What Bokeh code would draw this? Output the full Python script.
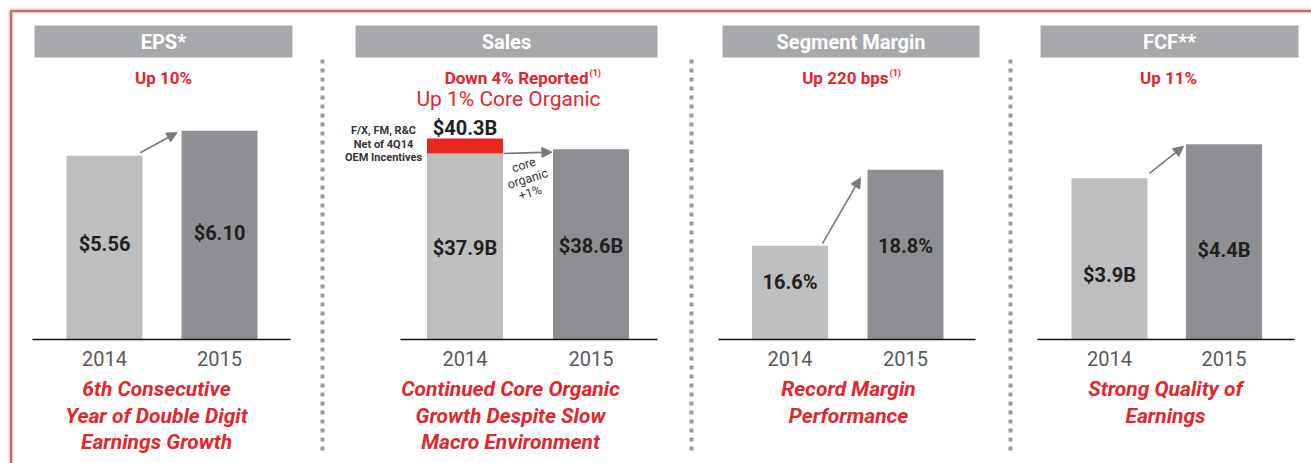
from bokeh.plotting import figure
from bokeh.models import Range1d, Arrow, NormalHead
from bokeh.core.properties import value
from bokeh.embed import file_html
from bokeh.resources import INLINE

# ---------------- data ----------------
years = ["2014", "2015"]
eps_values = [5.56, 6.10]
eps_labels = ["$5.56", "$6.10"]
sales_values = [37.9, 38.6]
sales_labels = ["$37.9B", "$38.6B"]
sales_reported_2014 = 40.3
sales_reported_label = "$40.3B"
margin_values = [16.6, 18.8]
margin_labels = ["16.6%", "18.8%"]
fcf_values = [3.9, 4.4]
fcf_labels = ["$3.9B", "$4.4B"]

titles = ["EPS*", "Sales", "Segment Margin", "FCF**"]
subtitles = ["Up 10%", "Down 4% Reported", "Up 220 bps", "Up 11%"]
subtitle_notes = ["", "(1)", "(1)", ""]
sales_core_note = "Up 1% Core Organic"
sales_bridge_note = ["F/X, FM, R&C", "Net of 4Q14", "OEM Incentives"]
sales_arrow_note = ["core", "organic", "+1%"]
captions = [
    ["6th Consecutive", "Year of Double Digit", "Earnings Growth"],
    ["Continued Core Organic", "Growth Despite Slow", "Macro Environment"],
    ["Record Margin", "Performance"],
    ["Strong Quality of", "Earnings"],
]

# ---------------- style / layout ----------------
FONT = value("Roboto")
RED = "#e2262b"
DARK = "#231f20"
HEAD_GRAY = "#a7a8ab"
BAR_COLORS = ["#bdbec0", "#8e8f92"]
RED_BAR = "#e8261e"
ARROW_GRAY = "#7a7a7a"

W, H = 1311, 463
X0, Y0 = 0, 0          # page offset (template has no body margin)
BASE_Y = 339           # page y of baseline

panels = [
    dict(key="eps", vals=eps_values, labels=eps_labels, c=(104, 219), base=1.59, k=46.3,
         line=(32, 290), head=(34, 292), sub_x=163, cap_x=156, frac=(0.52, 0.51),
         arrow=((0.31, 3), (0.63, -2))),
    dict(key="sales", vals=sales_values, labels=sales_labels, c=(464.5, 590.5), base=8.14, k=6.25,
         line=(400, 657), head=(355, 657), sub_x=588, cap_x=510, frac=(0.49, 0.49),
         arrow=((0.306, 0), (0.69, -3))),
    dict(key="margin", vals=margin_values, labels=margin_labels, c=(789.5, 905), base=13.88, k=34.5,
         line=(718, 975), head=(722, 979), sub_x=888, cap_x=848, frac=(0.61, 0.55),
         arrow=((0.281, 2), (0.61, -8))),
    dict(key="fcf", vals=fcf_values, labels=fcf_labels, c=(1109, 1223.5), base=1.53, k=68.0,
         line=(1037, 1294), head=(1040, 1298), sub_x=1168, cap_x=1165, frac=(0.40, 0.46),
         arrow=((0.349, 5), (0.646, -2))),
]
BAR_W = 76

p = figure(width=W, height=H,
           x_range=Range1d(X0, X0 + W), y_range=Range1d(Y0 + H, Y0),
           x_axis_type=None, y_axis_type=None,
           output_backend="svg", toolbar_location=None,
           min_border=0, outline_line_color=None,
           background_fill_color="white", border_fill_color="white")

# outer frame
p.line(x=[10.5, 10.5, X0 + W], y=[Y0 + H, 10.5, 10.5], line_color="#f3c6c6", line_width=5)
p.line(x=[10.5, 10.5, X0 + W], y=[Y0 + H, 10.5, 10.5], line_color="#a05a5a", line_width=1.6)

# dotted separators
p.segment(x0=[322, 691, 1010], y0=[59] * 3, x1=[322, 691, 1010], y1=[455] * 3,
          line_color="#9c9c9c", line_width=4, line_dash="4 5")

for i, pn in enumerate(panels):
    key = pn["key"]
    c0, c1 = pn["c"]
    d = c1 - c0
    k, base = pn["k"], pn["base"]
    p.extra_x_ranges[key] = Range1d((X0 - c0) / d, (X0 + W - c0) / d)
    p.extra_y_ranges[key] = Range1d(base - (Y0 + H - BASE_Y) / k, base + (BASE_Y - Y0) / k)

    # header
    hl, hr = pn["head"]
    p.quad(left=[hl], right=[hr], top=[25], bottom=[57], fill_color=HEAD_GRAY, line_color=None)
    p.text(x=[(hl + hr) / 2], y=[41.5], text=[titles[i]], text_font=FONT, text_font_style="bold",
           text_font_size="20px", text_color="white", text_align="center", text_baseline="middle")

    # subtitle
    if subtitle_notes[i]:
        p.text(x=[pn["sub_x"]], y=[77], text=[subtitles[i]], text_font=FONT, text_font_style="bold",
               text_font_size="17px", text_color=RED, text_align="right", text_baseline="middle")
        p.text(x=[pn["sub_x"] + 1], y=[72], text=[subtitle_notes[i]], text_font=FONT,
               text_font_style="bold", text_font_size="9px", text_color=RED,
               text_align="left", text_baseline="middle")
    else:
        p.text(x=[pn["sub_x"]], y=[77], text=[subtitles[i]], text_font=FONT, text_font_style="bold",
               text_font_size="17px", text_color=RED, text_align="center", text_baseline="middle")

    # bars
    vals = pn["vals"]
    p.vbar(x=[0, 1], top=vals, bottom=base, width=BAR_W / d, fill_color=BAR_COLORS,
           line_color=None, x_range_name=key, y_range_name=key)

    # value labels
    ly = [base + f * (v - base) for f, v in zip(pn["frac"], vals)]
    p.text(x=[0, 1], y=ly, text=pn["labels"], text_font=FONT, text_font_style="bold",
           text_font_size="20px", text_color=DARK, text_align="center", text_baseline="middle",
           x_range_name=key, y_range_name=key)

    # baseline
    ll, lr = pn["line"]
    p.segment(x0=[ll], y0=[BASE_Y], x1=[lr], y1=[BASE_Y], line_color="#111111", line_width=1.6)

    # year labels
    p.text(x=[0, 1], y=[358, 358], text=years, text_font=FONT, text_font_size="20px",
           text_color="#58595b", text_align="center", text_baseline="middle", x_range_name=key)

    # captions
    cap = captions[i]
    p.text(x=[pn["cap_x"]] * len(cap), y=[388.5 + 26.5 * j for j in range(len(cap))], text=cap,
           text_font=FONT, text_font_style="bold italic", text_font_size="21px", text_color=RED,
           text_align="center", text_baseline="middle")

    # growth arrow
    (sx, soff), (ex, eoff) = pn["arrow"]
    p.add_layout(Arrow(x_start=sx, y_start=vals[0] + soff / k, x_end=ex, y_end=vals[1] + eoff / k,
                       line_color=ARROW_GRAY, line_width=1.6,
                       end=NormalHead(size=10, fill_color=ARROW_GRAY, line_color=ARROW_GRAY),
                       x_range_name=key, y_range_name=key))

# sales specifics
sk = panels[1]["k"]
p.vbar(x=[0], bottom=[sales_values[0]], top=[sales_reported_2014], width=BAR_W / 126,
       fill_color=RED_BAR, line_color=None, x_range_name="sales", y_range_name="sales")
p.text(x=[0], y=[sales_reported_2014 + 11 / sk], text=[sales_reported_label], text_font=FONT,
       text_font_style="bold", text_font_size="20px", text_color=DARK, text_align="center",
       text_baseline="middle", x_range_name="sales", y_range_name="sales")
p.text(x=[508], y=[98], text=[sales_core_note], text_font=FONT, text_font_size="21px",
       text_color=RED, text_align="center", text_baseline="middle")
p.text(x=[383] * 3, y=[130, 143.5, 157], text=sales_bridge_note, text_font=FONT,
       text_font_style="bold", text_font_size="11px", text_color="#333333",
       text_align="center", text_baseline="middle")
p.text(x=[523, 527, 529.5], y=[164, 178, 192], text=sales_arrow_note, text_font=FONT,
       text_font_size="12.5px", text_color="#333333", text_align="center",
       text_baseline="middle", angle=0.3)

open("out.html", "w").write(file_html(p, INLINE))
